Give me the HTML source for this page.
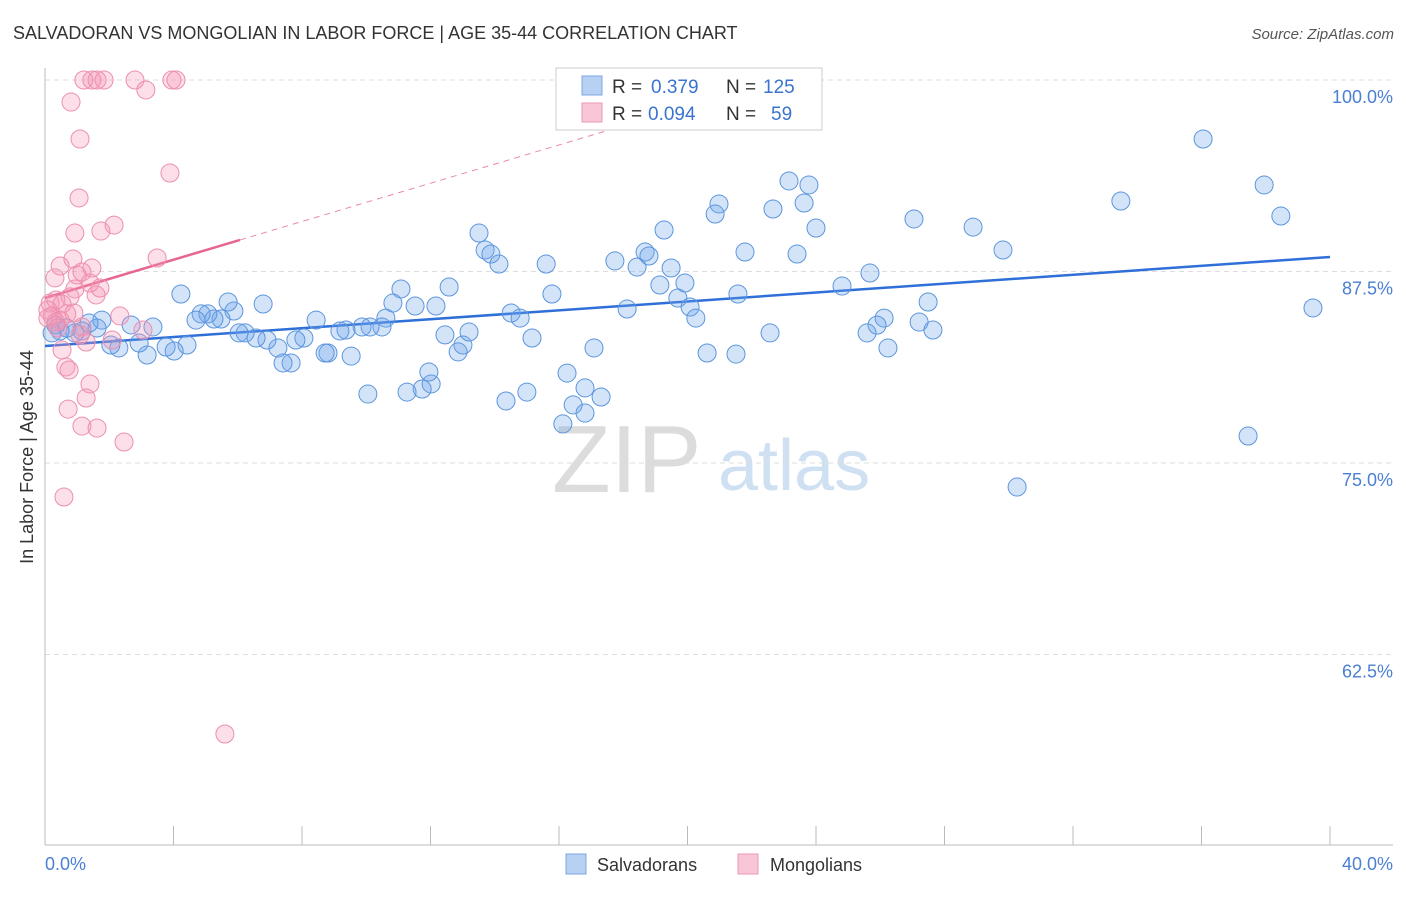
<!DOCTYPE html>
<html><head><meta charset="utf-8"><style>
body{margin:0;background:#fff;font-family:"Liberation Sans",sans-serif;}
svg text{font-family:"Liberation Sans",sans-serif;}
</style></head><body>
<svg id="chart" width="1406" height="892" viewBox="0 0 1406 892" xmlns="http://www.w3.org/2000/svg">
<text x="13" y="39" font-size="18" fill="#333">SALVADORAN VS MONGOLIAN IN LABOR FORCE | AGE 35-44 CORRELATION CHART</text>
<text x="1394" y="39" font-size="15" fill="#555" text-anchor="end" font-style="italic">Source: ZipAtlas.com</text>
<g>
<text x="552" y="492" font-size="96" fill="#dcdcdc" font-family="Liberation Serif, serif">ZIP</text>
<text x="718" y="490" font-size="72" fill="#cfe0f3">atlas</text>
</g>
<g id="grid"></g>
<line x1="45" y1="68" x2="45" y2="845" stroke="#bbb"/>
<line x1="45" y1="845" x2="1393" y2="845" stroke="#bbb"/>
<g id="ticks"></g>
<text transform="translate(33,457) rotate(-90)" font-size="18" fill="#333" text-anchor="middle">In Labor Force | Age 35-44</text>
<text x="45" y="870" font-size="18" fill="#4a7fd4">0.0%</text>
<text x="1393" y="870" font-size="18" fill="#4a7fd4" text-anchor="end">40.0%</text>
<g id="trends"></g>
<g id="points"></g>
<g>
<rect x="556" y="68" width="266" height="62" fill="#fff" stroke="#ccc"/>
<rect x="582" y="76" width="20" height="19" fill="#b7d1f3" stroke="#7aa7e3"/>
<text x="612" y="93" font-size="19" fill="#333">R = </text><text x="651" y="93" font-size="19" fill="#3a74d0">0.379</text>
<text x="726" y="93" font-size="19" fill="#333">N = </text><text x="763" y="93" font-size="19" fill="#3a74d0">125</text>
<rect x="582" y="103" width="20" height="19" fill="#f8c6d6" stroke="#ea9ab4"/>
<text x="612" y="120" font-size="19" fill="#333">R = </text><text x="648" y="120" font-size="19" fill="#3a74d0">0.094</text>
<text x="726" y="120" font-size="19" fill="#333">N = </text><text x="771" y="120" font-size="19" fill="#3a74d0">59</text>
</g>
<g>
<rect x="566" y="854" width="20" height="20" fill="#b7d1f3" stroke="#7aa7e3"/>
<text x="597" y="871" font-size="18" fill="#333">Salvadorans</text>
<rect x="738" y="854" width="20" height="20" fill="#f8c6d6" stroke="#ea9ab4"/>
<text x="770" y="871" font-size="18" fill="#333">Mongolians</text>
</g>
</svg>
<script>
const yTicks=[100,87.5,75,62.5];
const yTickLabels=["100.0%","87.5%","75.0%","62.5%"];
const xTicks=[0,4,8,12,16,20,24,28,32,36,40];
const blueX=[36.05,37.95,38.47,33.49,39.47,37.45,30.26,29.82,28.89,27.05,25.68,24.81,27.49,27.21,27.64,26.12,25.9,25.59,26.24,23.16,23.78,23.63,24.0,22.66,23.41,21.79,20.98,20.86,19.27,18.68,18.8,18.43,17.74,19.49,19.14,19.92,19.7,20.08,20.26,21.57,20.61,21.51,22.57,18.12,17.09,16.25,16.81,16.44,17.31,16.81,16.12,15.6,15.78,15.16,15.0,14.35,14.51,14.79,13.51,13.7,13.88,14.13,12.58,12.17,11.52,11.08,10.83,10.61,10.49,10.12,9.87,9.53,9.37,9.18,8.81,8.72,8.44,8.06,7.81,7.66,7.41,7.25,6.91,6.79,6.57,6.23,6.04,5.88,5.7,5.48,5.26,5.07,4.86,4.7,4.42,4.23,4.02,3.77,3.36,3.18,2.93,2.68,2.3,2.05,1.77,1.62,1.37,1.15,0.93,0.68,0.47,0.34,0.22,12.45,13.01,12.86,13.2,12.02,11.74,11.27,11.95,10.05];
const blueY=[96.15,93.15,91.12,92.1,85.12,76.76,73.43,88.9,90.4,90.93,87.4,86.55,85.51,84.2,83.68,84.46,84.0,83.49,82.51,93.41,93.15,91.97,90.34,91.58,88.64,88.77,91.91,91.25,90.21,88.77,88.51,87.79,88.19,87.73,86.62,86.75,85.77,85.18,84.46,86.03,82.18,82.11,83.49,85.05,82.51,80.87,79.9,78.79,79.31,78.26,77.55,87.99,86.03,83.16,79.63,79.05,84.79,84.46,90.01,88.9,88.64,87.99,86.49,85.25,85.25,86.36,85.44,84.46,83.88,83.88,83.88,81.98,83.68,83.62,82.18,82.18,84.33,83.16,83.03,81.53,81.53,82.51,83.03,85.38,83.16,83.49,83.49,84.92,85.51,84.4,84.4,84.73,84.73,84.33,82.7,86.03,82.31,82.57,83.88,82.05,82.83,84.01,82.51,82.7,84.33,83.81,84.14,83.62,83.49,83.81,83.62,84.01,83.49,83.36,82.7,82.25,83.55,80.16,79.83,79.63,80.94,79.5];
const pinkX=[1.21,1.46,1.62,1.84,2.8,3.14,3.95,4.08,0.81,1.09,3.89,1.06,0.93,1.74,2.15,3.49,0.47,0.87,1.46,0.31,1.0,1.15,1.4,1.71,1.59,0.93,0.34,0.78,0.53,0.16,0.09,0.22,0.68,0.47,0.9,0.34,0.09,1.15,2.33,1.09,1.28,0.53,0.65,0.75,0.72,1.28,1.4,1.15,1.62,2.46,0.59,5.6,3.05,2.09,0.4];
const pinkY=[100,100,100,100,100,99.35,100,100,98.56,96.15,93.93,92.3,90.01,90.14,90.53,88.38,87.86,88.32,87.73,87.08,87.27,87.47,86.75,86.42,85.97,86.36,85.64,85.84,85.38,85.44,84.99,84.6,84.73,84.33,84.79,84.2,84.46,83.88,84.6,83.36,82.9,82.38,81.27,81.07,78.52,79.24,80.16,77.41,77.28,76.37,72.78,57.31,83.68,83.03,83.81];
const blueTrend=[82.64,88.45];
const pinkTrend=[85.77,89.56];
const pinkTrendEnd=6.07;

const NS="http://www.w3.org/2000/svg";
const xs=v=>45+v/40*1285;
const ys=v=>80+(100-v)*15.32;
function mk(tag,attrs,parent){const e=document.createElementNS(NS,tag);for(const k in attrs)e.setAttribute(k,attrs[k]);parent.appendChild(e);return e;}
const grid=document.getElementById('grid');
yTicks.forEach((t,i)=>{
 const l=mk('line',{x1:45,x2:1393,y1:ys(t),y2:ys(t),stroke:'#ddd','stroke-dasharray':'5,4'},grid);
 
 
 const tx=mk('text',{x:1393,y:ys(t)+23,'font-size':18,fill:'#4a7fd4','text-anchor':'end'},grid);
 tx.textContent=yTickLabels[i];
 
 
});
const ticks=document.getElementById('ticks');
xTicks.forEach(t=>{
 const l=mk('line',{x1:xs(t),x2:xs(t),y1:826,y2:845,stroke:'#bbb'},ticks);
 
 
});
const tr=document.getElementById('trends');
const bl=mk('line',{x1:xs(0),y1:ys(blueTrend[0]),x2:xs(40),y2:ys(blueTrend[1]),stroke:'#2f6fd8','stroke-width':2.5},tr);


const slope=(pinkTrend[1]-pinkTrend[0])/pinkTrendEnd;
const xEnd=(100-pinkTrend[0])/slope;
const pd=mk('line',{x1:xs(pinkTrendEnd),y1:ys(pinkTrend[1]),x2:xs(xEnd),y2:ys(100),stroke:'#e98aa8','stroke-width':1,'stroke-dasharray':'6,5'},tr);


const pl=mk('line',{x1:xs(0),y1:ys(pinkTrend[0]),x2:xs(pinkTrendEnd),y2:ys(pinkTrend[1]),stroke:'#e6668f','stroke-width':2.5},tr);


const pts=document.getElementById('points');
blueX.forEach((x,i)=>{
 const c=mk('circle',{cx:xs(x),cy:ys(blueY[i]),r:9,fill:'rgba(110,165,235,0.3)',stroke:'#5c95dc','stroke-width':1},pts);
 
 
});
pinkX.forEach((x,i)=>{
 const c=mk('circle',{cx:xs(x),cy:ys(pinkY[i]),r:9,fill:'rgba(245,150,180,0.3)',stroke:'#ec8fae','stroke-width':1},pts);
 
 
});
</script>
</body></html>
